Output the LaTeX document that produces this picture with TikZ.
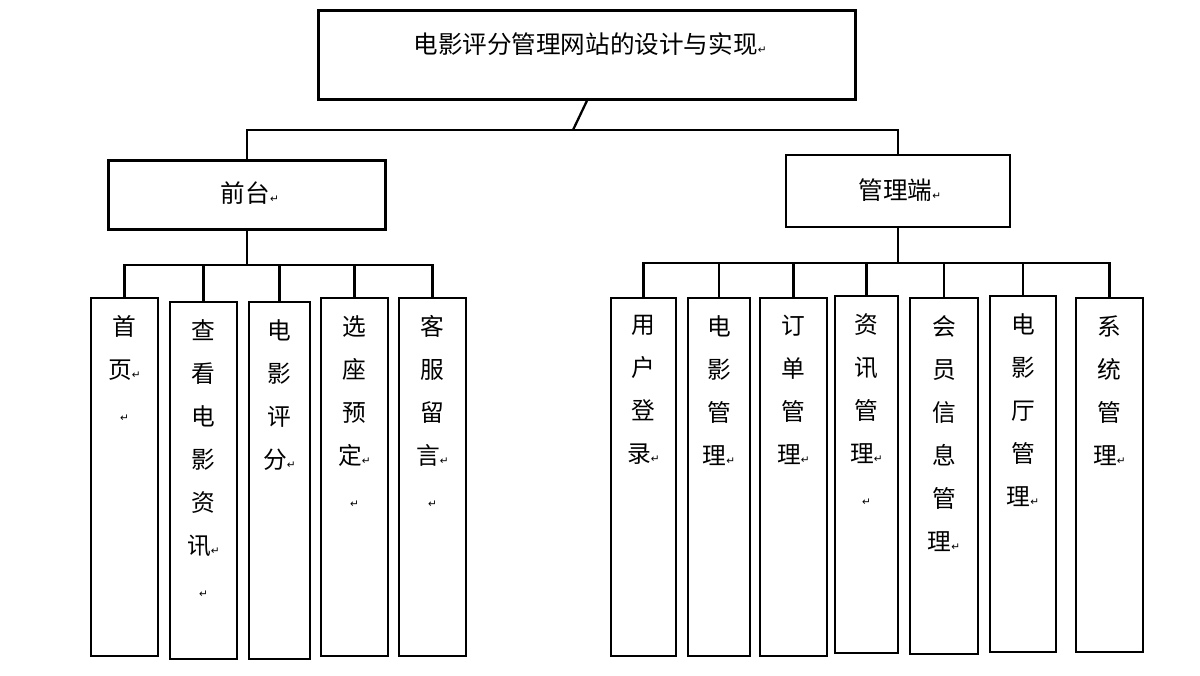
\documentclass[tikz,border=0pt]{standalone}
\usepackage{fontspec}
\newfontfamily\cjk{Noto Sans CJK SC}
\newfontfamily\djvfont{DejaVu Sans}
\newcommand{\rt}{{\djvfont\fontsize{6}{6}\selectfont ↵}}
\begin{document}
\begin{tikzpicture}[x=0.02cm,y=-0.02cm,
  box/.style={draw,line width=1.3pt,inner sep=0pt},
  col/.style={anchor=north,align=center,font=\cjk\fontsize{13.5}{24.5}\selectfont,inner sep=0pt},
  ttl/.style={font=\cjk\fontsize{14}{16}\selectfont},
  ln/.style={line width=1.3pt}]
\useasboundingbox (0,0) rectangle (1200,676);
\newcommand{\bx}[6]{\node[box,minimum width=#3*0.02cm-1.3pt,minimum height=#4*0.02cm-1.3pt] (#1) at (#2) {};
 \node[col] (#1t) at ([yshift=-0.36cm]#1.north) {#5};}
\node[box,minimum width=537*0.02cm,minimum height=89*0.02cm] (top) at (587,55) {};
\node[ttl] (topt) at (590,44) {电影评分管理网站的设计与实现\rt};
\node[box,minimum width=277*0.02cm,minimum height=69*0.02cm] (qt) at (247,195) {};
\node[ttl] (qtt) at (250,193) {前台\rt};
\node[box,minimum width=224*0.02cm,minimum height=72*0.02cm] (gl) at (898,191) {};
\node[ttl] (glt) at (900,190) {管理端\rt};
\bx{a}{124.5,477}{69}{360}{首\\页\rt\\\rt}{}
\bx{b}{203.5,480.5}{69}{359}{查\\看\\电\\影\\资\\讯\rt\\\rt}{}
\bx{c}{279.5,480.5}{63}{359}{电\\影\\评\\分\rt}{}
\bx{d}{354.5,477}{69}{360}{选\\座\\预\\定\rt\\\rt}{}
\bx{e}{432.5,477}{69}{360}{客\\服\\留\\言\rt\\\rt}{}
\bx{f}{643.5,477}{67}{360}{用\\户\\登\\录\rt}{}
\bx{g}{719,477}{64}{360}{电\\影\\管\\理\rt}{}
\bx{h}{793.5,477}{69}{360}{订\\单\\管\\理\rt}{}
\bx{i}{866.5,474.5}{65}{359}{资\\讯\\管\\理\rt\\\rt}{}
\bx{j}{944,476}{70}{358}{会\\员\\信\\息\\管\\理\rt}{}
\bx{k}{1023,474}{68}{358}{电\\影\\厅\\管\\理\rt}{}
\bx{l}{1109.5,475}{69}{356}{系\\统\\管\\理\rt}{}
\coordinate (b0) at (573,130);
\draw[ln] (top.south) -- (b0);
\draw[ln] (b0) -| (qt.north);
\draw[ln] (b0) -| (gl.north);
\coordinate (b1) at (247,265);
\draw[ln] (qt.south) -- (b1);
\foreach \n in {a,b,c,d,e} {\draw[ln] (b1) -| (\n.north);}
\coordinate (b2) at (898,263);
\draw[ln] (gl.south) -- (b2);
\foreach \n in {f,g,h,i,j,k,l} {\draw[ln] (b2) -| (\n.north);}
\end{tikzpicture}
\end{document}
